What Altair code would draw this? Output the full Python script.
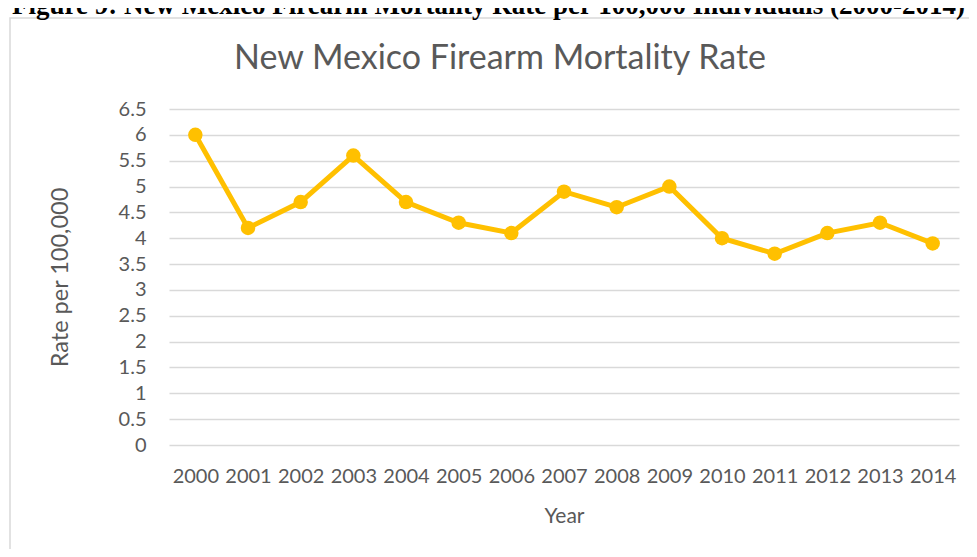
import altair as alt
import pandas as pd

years = ["2000", "2001", "2002", "2003", "2004", "2005", "2006", "2007",
         "2008", "2009", "2010", "2011", "2012", "2013", "2014"]
rates = [6.0, 4.2, 4.7, 5.6, 4.7, 4.3, 4.1, 4.9, 4.6, 5.0, 4.0, 3.7, 4.1, 4.3, 3.9]
y_ticks = [0, 0.5, 1, 1.5, 2, 2.5, 3, 3.5, 4, 4.5, 5, 5.5, 6, 6.5]

caption = "Figure 9: New Mexico Firearm Mortality Rate per 100,000 Individuals (2000-2014)"
chart_title = "New Mexico Firearm Mortality Rate"

df = pd.DataFrame({"Year": years, "Rate": rates})

FONT = "Lato"
GREY = "#595959"
GOLD = "#FFC000"

x_enc = alt.X("Year:O", scale=alt.Scale(type="point", padding=0.5),
              axis=alt.Axis(title="Year", labelAngle=0, labelFont=FONT, labelFontSize=20,
                            labelColor=GREY, labelPadding=21, ticks=False, domain=False,
                            titleFont=FONT, titleFontSize=21, titleFontWeight="normal",
                            titleColor=GREY, titleY=77, titleBaseline="alphabetic"))
y_enc = alt.Y("Rate:Q", scale=alt.Scale(domain=[0, 6.5], nice=False),
              axis=alt.Axis(title="Rate per 100,000", values=y_ticks, format="~g",
                            labelFont=FONT, labelFontSize=20, labelColor=GREY,
                            labelPadding=23, ticks=False, domain=False,
                            gridColor="#d9d9d9", gridWidth=1.3,
                            titleFont=FONT, titleFontSize=23.5, titleFontWeight="normal",
                            titleColor=GREY, titleAngle=-90, titleX=-109, titleY=168,
                            titleAlign="center", titleBaseline="middle"))

frame = alt.Chart(pd.DataFrame({"a": [0]})).mark_rect(
    fill="white", fillOpacity=0, stroke="#d9d9d9", strokeWidth=1.5
).encode(x=alt.value(-159), x2=alt.value(900), y=alt.value(-91), y2=alt.value(600))

cap = alt.Chart(pd.DataFrame({"t": [caption]})).mark_text(
    font="Liberation Serif", fontSize=27, fontWeight="bold", color="black",
    align="center", baseline="alphabetic"
).encode(text="t:N", x=alt.value(319.5), y=alt.value(-95))

ttl = alt.Chart(pd.DataFrame({"t": [chart_title]})).mark_text(
    font=FONT, fontSize=34, color=GREY, align="center", baseline="alphabetic"
).encode(text="t:N", x=alt.value(331), y=alt.value(-40))

line = alt.Chart(df).mark_line(color=GOLD, strokeWidth=5).encode(x=x_enc, y=y_enc)
pts = alt.Chart(df).mark_circle(color=GOLD, size=210, opacity=1).encode(x=x_enc, y=y_enc)

chart = alt.layer(frame, line, pts, ttl, cap).properties(
    width=790, height=336,
    autosize=alt.AutoSizeParams(type="none"),
    padding={"left": 161, "top": 101, "right": 10, "bottom": 104},
    background="white",
).configure_view(stroke=None)

chart.save("out.html", embed_options={"renderer": "svg", "actions": False})
